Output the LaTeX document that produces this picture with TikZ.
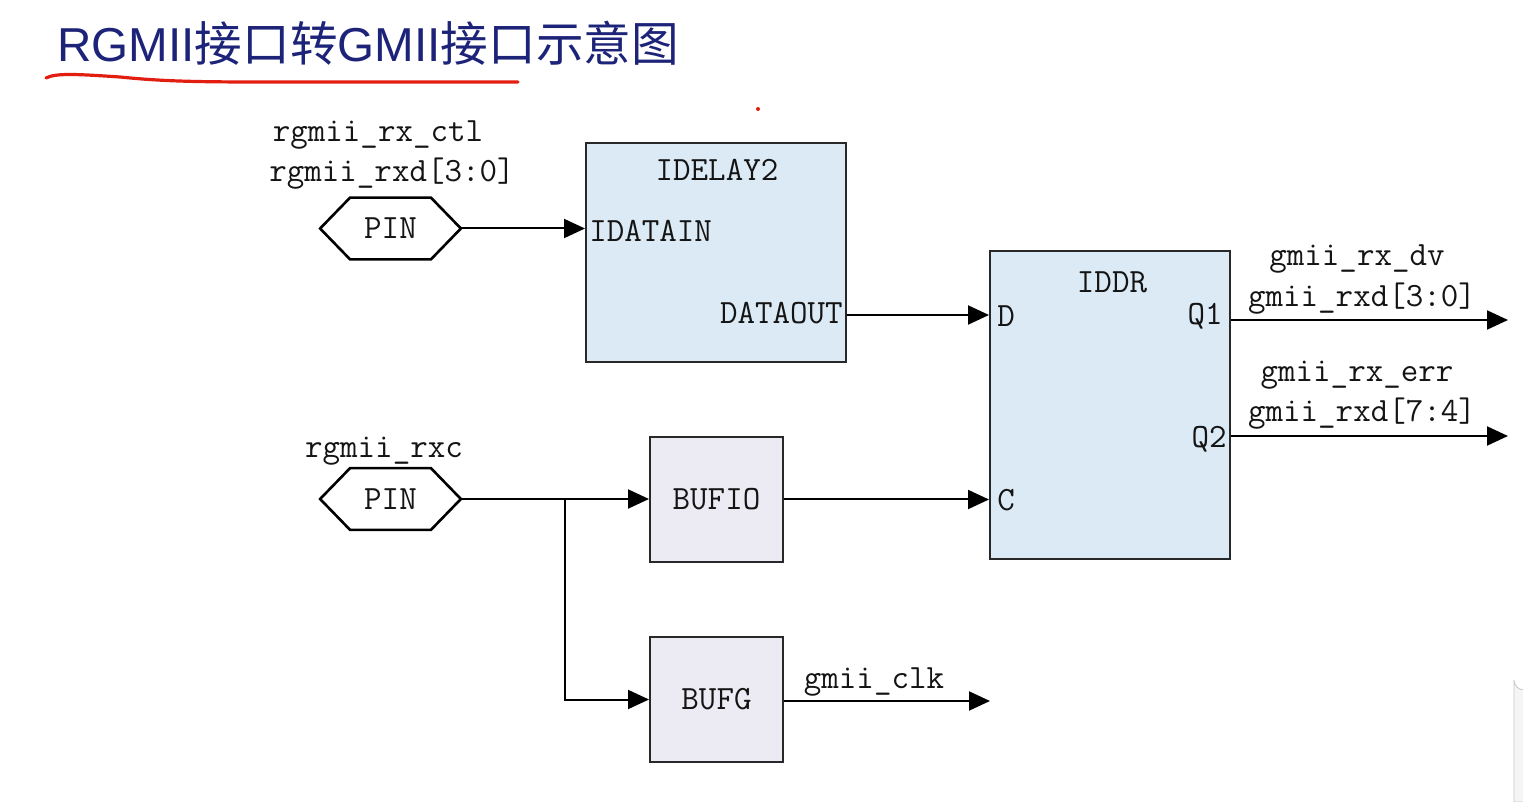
\documentclass[tikz,border=0pt]{standalone}
\usepackage{fontspec}
\newfontfamily\cjk{Noto Sans CJK SC}
\newfontfamily\titlelat{Liberation Sans}
\usetikzlibrary{arrows.meta}
\definecolor{titleblue}{RGB}{28,35,120}
\definecolor{boxblue}{RGB}{219,234,245}
\definecolor{boxlav}{RGB}{236,234,242}
\definecolor{edge}{RGB}{40,40,40}
\definecolor{inkc}{RGB}{20,20,20}
\definecolor{uline}{RGB}{225,30,15}
\begin{document}
\begin{tikzpicture}[x=0.5pt,y=-0.5pt,
  lbl/.style={font=\fontsize{17}{20}\ttfamily, text=inkc, inner sep=0pt},
  blk/.style={draw=edge, line width=1pt, inner sep=0pt},
  pinbox/.style={minimum width=70pt, minimum height=30.5pt, inner sep=0pt, font=\fontsize{17}{20}\ttfamily, text=inkc},
  wire/.style={line width=1pt, draw=black},
  arr/.style={wire, -{Triangle[length=10.5pt,width=9.5pt]}}]
\useasboundingbox (0,0) rectangle (1523,802);
% title
\node[anchor=west, inner sep=0pt, text=titleblue, font=\fontsize{23.8}{28}\selectfont] (title) at (57,43)
  {{\titlelat RGMII}{\cjk 接口转}{\titlelat GMII}{\cjk 接口示意图}};
\draw[uline, line width=1.6pt, line cap=round] (46,78) .. controls (56,73) and (75,74) .. (120,77)
  .. controls (160,81) and (190,82) .. (260,82) -- (518,82);
\fill[uline] (758,109) circle (1pt);
% side artifact
\draw[draw=black!22, fill=black!4] (1530,802) -- (1514,802) -- (1514,680) arc[start angle=180, end angle=90, radius=10] -- (1530,670);
% blocks
\node[blk, fill=boxblue, minimum width=130pt, minimum height=109.5pt] (idelay) at (716,252.5) {};
\node[blk, fill=boxblue, minimum width=120pt, minimum height=154pt] (iddr) at (1110,405) {};
\node[blk, fill=boxlav, minimum width=66.5pt, minimum height=62.5pt, font=\fontsize{17}{20}\ttfamily, text=inkc] (bufio) at (716.5,499.5) {BUFIO};
\node[blk, fill=boxlav, minimum width=66.5pt, minimum height=62.5pt, font=\fontsize{17}{20}\ttfamily, text=inkc] (bufg) at (716.5,699.5) {BUFG};
% block labels
\node[lbl] (idelayname) at (717,170) {IDELAY2};
\node[lbl, anchor=west] (idatain) at (589,231) {IDATAIN};
\node[lbl, anchor=east] (dataout) at (843,313) {DATAOUT};
\node[lbl] (iddrname) at (1112,282) {IDDR};
\node[lbl, anchor=west] (pd) at (997,316) {D};
\node[lbl, anchor=east] (pq1) at (1223,316) {Q1};
\node[lbl, anchor=east] (pq2) at (1227,439) {Q2};
\node[lbl, anchor=west] (pc) at (997,500) {C};
% pins
\node[pinbox] (pin1) at (390.5,228.5) {PIN};
\node[pinbox] (pin2) at (390.5,499) {PIN};
\foreach \p in {pin1,pin2}{
  \draw[line width=1.3pt, draw=black, line join=miter] (\p.west) -- ([xshift=15pt]\p.north west) -- ([xshift=-15pt]\p.north east)
    -- (\p.east) -- ([xshift=-15pt]\p.south east) -- ([xshift=15pt]\p.south west) -- cycle;
}
\node[lbl] (l1) at (378,135) {rgmii\_rx\_ctl};
\node[lbl] (l2) at (392,174) {rgmii\_rxd[3:0]};
\node[lbl] (l3) at (384,451) {rgmii\_rxc};
\node[lbl] (l4) at (1357,259) {gmii\_rx\_dv};
\node[lbl] (l5) at (1362,299) {gmii\_rxd[3:0]};
\node[lbl] (l6) at (1357,375) {gmii\_rx\_err};
\node[lbl] (l7) at (1362,414) {gmii\_rxd[7:4]};
\node[lbl] (l8) at (874,682) {gmii\_clk};
% coordinates
\coordinate (dsrc) at (idelay.east |- 0,315);
\coordinate (ddst) at (iddr.west |- 0,315);
\coordinate (q1s) at (iddr.east |- 0,320);
\coordinate (q1e) at (1508,320);
\coordinate (q2s) at (iddr.east |- 0,436);
\coordinate (q2e) at (1508,436);
\coordinate (split) at (565,499);
\coordinate (clke) at (990,701);
% wires
\draw[arr] (pin1.east) -- (pin1.east -| idelay.west);
\draw[arr] (dsrc) -- (ddst);
\draw[arr] (q1s) -- (q1e);
\draw[arr] (q2s) -- (q2e);
\draw[arr] (pin2.east) -- (pin2.east -| bufio.west);
\draw[arr] (split) |- (bufg.west);
\draw[arr] (bufio.east) -- (bufio.east -| iddr.west);
\draw[arr] (bufg.east |- clke) -- (clke);
\end{tikzpicture}
\end{document}
